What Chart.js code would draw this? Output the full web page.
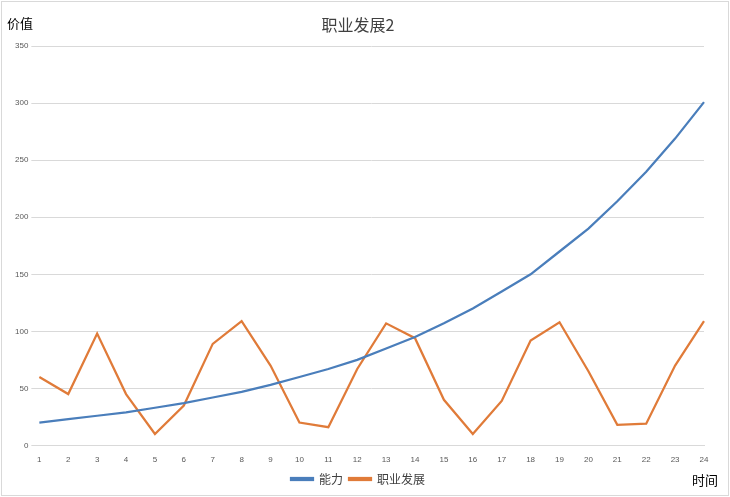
<!DOCTYPE html>
<html>
<head>
<meta charset="utf-8">
<script src="https://cdn.jsdelivr.net/npm/chart.js@4/dist/chart.umd.min.js"></script>
<style>
  html, body { margin: 0; padding: 0; background: #fff; }
  #wrap { position: absolute; left: 1px; top: 1px; width: 726px; height: 493px; border: 1px solid #d9d9d9; }
</style>
</head>
<body>
<div id="wrap"><canvas id="c"></canvas></div>
<script>
const categories = ['1','2','3','4','5','6','7','8','9','10','11','12','13','14','15','16','17','18','19','20','21','22','23','24'];
const abilityValues = [20, 23, 26, 29, 33, 37, 42, 47, 53, 60, 67, 75, 85, 95, 107, 120, 135, 150, 170, 190, 214, 240, 269, 301];
const careerValues = [60, 45, 98, 45, 10, 35, 89, 109, 70, 20, 16, 67, 107, 94, 40, 10, 39, 92, 108, 65, 18, 19, 70, 109];

const cornerLabels = {
  id: 'cornerLabels',
  afterDraw(chart) {
    const ctx = chart.ctx;
    ctx.save();
    ctx.fillStyle = '#000';
    ctx.font = '13px "Noto Sans CJK SC"';
    ctx.textBaseline = 'middle';
    ctx.textAlign = 'left';
    ctx.fillText('价值', 5, 21);
    ctx.textAlign = 'right';
    ctx.fillText('时间', chart.width - 10, 478);
    ctx.restore();
  }
};

new Chart(document.getElementById('c'), {
  type: 'line',
  data: {
    labels: categories,
    datasets: [
      { label: '能力', data: abilityValues, borderColor: '#4a7ebb', backgroundColor: '#4a7ebb', borderWidth: 2.25, pointRadius: 0, tension: 0 },
      { label: '职业发展', data: careerValues, borderColor: '#e07b39', backgroundColor: '#e07b39', borderWidth: 2.25, pointRadius: 0, tension: 0 }
    ]
  },
  options: {
    responsive: true,
    maintainAspectRatio: false,
    animation: false,
    layout: { padding: { left: 10, right: 24, top: 3, bottom: 0 } },
    plugins: {
      title: { display: true, text: '职业发展2', color: '#404040', font: { family: 'Noto Sans CJK SC', size: 16, weight: 'normal' }, padding: { top: 10, bottom: 12 } },
      legend: {
        position: 'bottom',
        labels: { color: '#404040', font: { family: 'Noto Sans CJK SC', size: 12 }, boxWidth: 22, boxHeight: 2, padding: 6 }
      },
      tooltip: { enabled: false }
    },
    scales: {
      x: {
        grid: { display: false },
        border: { color: '#d9d9d9' },
        ticks: { color: '#595959', font: { size: 8 }, maxRotation: 0, autoSkip: false, padding: 2 }
      },
      y: {
        min: 0, max: 350,
        grid: { color: '#d9d9d9' },
        border: { display: false },
        ticks: { stepSize: 50, color: '#595959', font: { size: 8 } }
      }
    }
  },
  plugins: [cornerLabels]
});
</script>
</body>
</html>
